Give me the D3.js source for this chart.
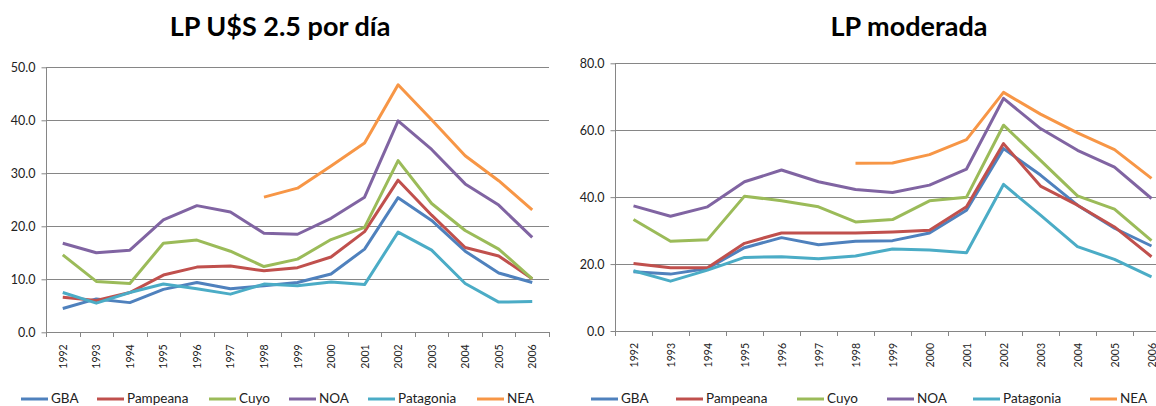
<!DOCTYPE html>
<html>
<head>
<meta charset="utf-8">
<script src="https://cdn.jsdelivr.net/npm/d3@7"></script>
<style>
  html, body { margin: 0; padding: 0; background: #fff; }
  svg { display: block; font-family: Lato, "Open Sans", sans-serif; }
</style>
</head>
<body>
<svg id="chart" width="1156" height="406"></svg>
<script>
// ---------- DATA ----------
const years = ["1992","1993","1994","1995","1996","1997","1998","1999","2000","2001","2002","2003","2004","2005","2006"];
const seriesNames = ["GBA", "Pampeana", "Cuyo", "NOA", "Patagonia", "NEA"];
const seriesColors = ["#4F81BD", "#C0504D", "#9BBB59", "#8064A2", "#4BACC6", "#F79646"];

// Chart 1: LP U$S 2.5 por día
const title1 = "LP U$S 2.5 por día";
const yTicks1 = [0, 10, 20, 30, 40, 50];
const lp25_GBA       = [4.5, 6.3, 5.6, 8.1, 9.4, 8.2, 8.8, 9.4, 11.0, 15.7, 25.4, 21.1, 15.3, 11.2, 9.4];
const lp25_Pampeana  = [6.6, 6.0, 7.5, 10.8, 12.3, 12.5, 11.6, 12.2, 14.2, 19.0, 28.7, 22.1, 16.0, 14.4, 10.1];
const lp25_Cuyo      = [14.6, 9.6, 9.2, 16.8, 17.4, 15.3, 12.4, 13.8, 17.5, 19.8, 32.4, 24.3, 19.2, 15.7, 10.1];
const lp25_NOA       = [16.8, 15.0, 15.5, 21.2, 23.9, 22.7, 18.7, 18.5, 21.5, 25.5, 39.9, 34.5, 28.0, 24.0, 17.9];
const lp25_Patagonia = [7.5, 5.5, 7.5, 9.1, 8.2, 7.2, 9.1, 8.8, 9.5, 9.0, 18.9, 15.5, 9.2, 5.7, 5.8];
const lp25_NEA       = [null, null, null, null, null, null, 25.5, 27.2, 31.4, 35.7, 46.7, 40.1, 33.3, 28.6, 23.1];

// Chart 2: LP moderada
const title2 = "LP moderada";
const yTicks2 = [0, 20, 40, 60, 80];
const mod_GBA       = [17.7, 17.0, 18.7, 24.9, 27.9, 25.8, 26.8, 27.0, 29.3, 36.1, 54.5, 46.6, 37.6, 30.7, 25.4];
const mod_Pampeana  = [20.2, 18.9, 18.9, 26.2, 29.3, 29.3, 29.3, 29.6, 30.1, 37.1, 56.0, 43.3, 37.6, 31.1, 22.2];
const mod_Cuyo      = [33.3, 26.8, 27.3, 40.3, 38.9, 37.1, 32.6, 33.3, 38.9, 40.0, 61.5, 51.0, 40.4, 36.4, 27.0];
const mod_NOA       = [37.4, 34.3, 37.1, 44.6, 48.1, 44.6, 42.3, 41.4, 43.6, 48.4, 69.5, 60.5, 54.0, 49.0, 39.6];
const mod_Patagonia = [18.0, 14.9, 18.2, 22.0, 22.2, 21.6, 22.4, 24.5, 24.2, 23.4, 43.8, 34.6, 25.2, 21.4, 16.2];
const mod_NEA       = [null, null, null, null, null, null, 50.1, 50.2, 52.7, 57.2, 71.3, 64.8, 59.2, 54.2, 45.6];

// ---------- LAYOUT ----------
const charts = [
  {
    title: title1, titleX: 280, titleY: 36,
    yTicks: yTicks1, yMax: 50,
    x0: 46, x1: 549, yTop: 67.3, yBottom: 332.3,
    series: [lp25_GBA, lp25_Pampeana, lp25_Cuyo, lp25_NOA, lp25_Patagonia, lp25_NEA],
    legendX: [21, 97, 209, 289, 368, 477]
  },
  {
    title: title2, titleX: 909, titleY: 36,
    yTicks: yTicks2, yMax: 80,
    x0: 615, x1: 1170, yTop: 63.3, yBottom: 331,
    series: [mod_GBA, mod_Pampeana, mod_Cuyo, mod_NOA, mod_Patagonia, mod_NEA],
    legendX: [591, 676, 797, 887, 973, 1090]
  }
];

const svg = d3.select("#chart");
const gridColor = "#868686";

charts.forEach(c => {
  const g = svg.append("g");
  const x = d3.scaleBand().domain(years).range([c.x0, c.x1]).paddingInner(0).paddingOuter(0);
  const y = d3.scaleLinear().domain([0, c.yMax]).range([c.yBottom, c.yTop]);

  // Title
  g.append("text")
    .attr("x", c.titleX).attr("y", c.titleY)
    .attr("text-anchor", "middle")
    .attr("font-weight", "bold")
    .attr("font-size", 27)
    .attr("fill", "#000")
    .text(c.title);

  // Gridlines
  g.append("g").selectAll("line")
    .data(c.yTicks.filter(t => t > 0))
    .join("line")
    .attr("x1", c.x0).attr("x2", c.x1)
    .attr("y1", d => Math.round(y(d)) + 0.5).attr("y2", d => Math.round(y(d)) + 0.5)
    .attr("stroke", gridColor).attr("stroke-width", 1);

  // Y axis
  const yAxis = d3.axisLeft(y).tickValues(c.yTicks).tickSize(5).tickPadding(6)
    .tickFormat(d3.format(".1f"));
  const ya = g.append("g").attr("transform", `translate(${Math.round(c.x0) + 0.5},0)`).call(yAxis);
  ya.select(".domain").attr("stroke", gridColor).attr("d", `M0,${c.yTop}V${c.yBottom}`);
  ya.selectAll(".tick line").attr("stroke", gridColor);
  ya.selectAll(".tick text").attr("font-size", 12.5).attr("fill", "#222").attr("font-family", "Lato");

  // X axis line + boundary ticks
  const xa = g.append("g");
  xa.append("line")
    .attr("x1", c.x0).attr("x2", c.x1)
    .attr("y1", Math.round(c.yBottom) + 0.5).attr("y2", Math.round(c.yBottom) + 0.5)
    .attr("stroke", gridColor);
  const bounds = years.map(d => x(d)).concat([c.x1]);
  xa.selectAll("line.tk").data(bounds).join("line").attr("class", "tk")
    .attr("x1", d => Math.round(d) + 0.5).attr("x2", d => Math.round(d) + 0.5)
    .attr("y1", Math.round(c.yBottom)).attr("y2", Math.round(c.yBottom) + 5)
    .attr("stroke", gridColor);
  xa.selectAll("text").data(years).join("text")
    .attr("transform", d => `translate(${x(d) + x.bandwidth() / 2 + 4},${c.yBottom + 12}) rotate(-90)`)
    .attr("text-anchor", "end")
    .attr("font-size", 10.5)
    .attr("fill", "#222")
    .text(d => d);

  // Lines
  const line = d3.line()
    .defined(d => d != null)
    .x((d, i) => x(years[i]) + x.bandwidth() / 2)
    .y(d => y(d));
  c.series.forEach((s, i) => {
    g.append("path")
      .datum(s)
      .attr("fill", "none")
      .attr("stroke", seriesColors[i])
      .attr("stroke-width", 3)
      .attr("stroke-linejoin", "round")
      .attr("d", line);
  });

  // Legend
  const lg = g.append("g");
  seriesNames.forEach((name, i) => {
    const lx = c.legendX[i];
    lg.append("line")
      .attr("x1", lx).attr("x2", lx + 27)
      .attr("y1", 399).attr("y2", 399)
      .attr("stroke", seriesColors[i]).attr("stroke-width", 3);
    lg.append("text")
      .attr("x", lx + 30).attr("y", 403)
      .attr("font-size", 13.5)
      .attr("fill", "#222")
      .text(name);
  });
});
</script>
</body>
</html>
